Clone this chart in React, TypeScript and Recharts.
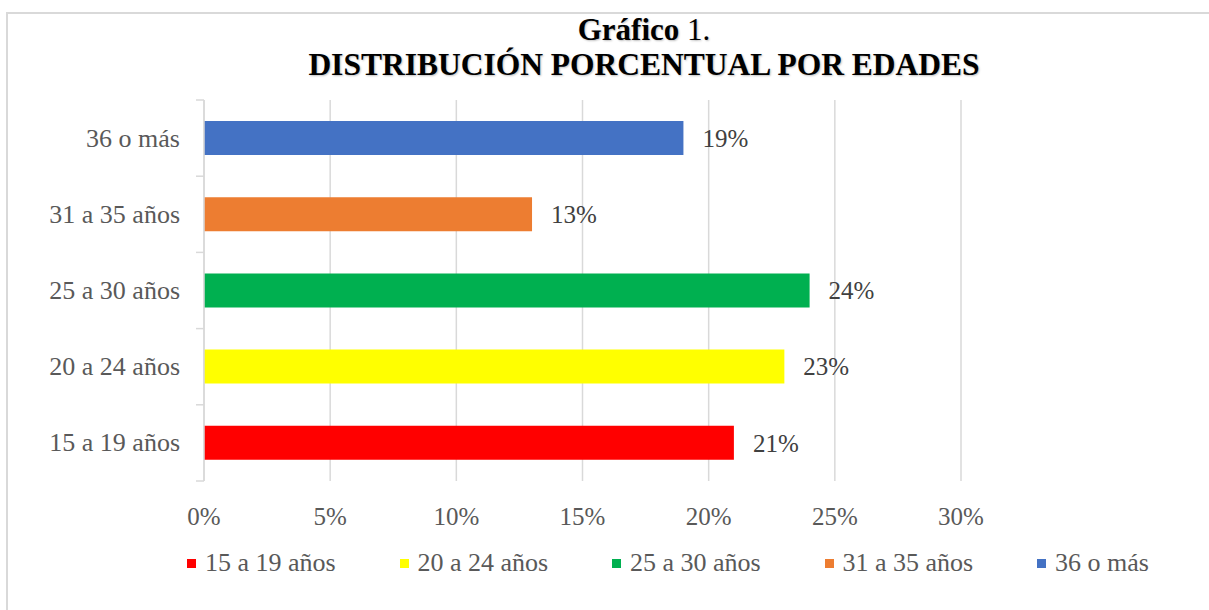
import { BarChart, Bar, XAxis, YAxis, CartesianGrid, Cell, LabelList, Legend } from 'recharts';

const categories = ['15 a 19 años', '20 a 24 años', '25 a 30 años', '31 a 35 años', '36 o más'];
const values = [21, 23, 24, 13, 19];
const colors = ['#FF0000', '#FFFF00', '#00B050', '#ED7D31', '#4472C4'];
const xTicks = [0, 5, 10, 15, 20, 25, 30];

const rows = categories.map((label, i) => ({ label, value: values[i] }));

const FONT = '"Liberation Serif", "Times New Roman", serif';
const AXIS_GRAY = '#d9d9d9';
const TEXT_GRAY = '#595959';
const PLOT_LEFT = 204;
const PLOT_TOP = 100;
const PLOT_BOTTOM = 481;
const BAND = (PLOT_BOTTOM - PLOT_TOP) / categories.length;

const YTick = ({ y, payload, index }) => (
	<g>
		<text
			x={PLOT_LEFT - 24}
			y={y}
			textAnchor="end"
			dominantBaseline="central"
			fill={TEXT_GRAY}
			fontSize={26}
			fontFamily={FONT}
		>
			{payload.value}
		</text>
		<line x1={PLOT_LEFT - 8} x2={PLOT_LEFT} y1={y - BAND / 2} y2={y - BAND / 2} stroke={AXIS_GRAY} strokeWidth={1.5} />
		{index === 0 && (
			<line x1={PLOT_LEFT - 8} x2={PLOT_LEFT} y1={y + BAND / 2} y2={y + BAND / 2} stroke={AXIS_GRAY} strokeWidth={1.5} />
		)}
	</g>
);

const XTick = ({ x, payload }) => (
	<text
		x={x}
		y={PLOT_BOTTOM + 35}
		textAnchor="middle"
		dominantBaseline="central"
		fill={TEXT_GRAY}
		fontSize={25}
		fontFamily={FONT}
	>
		{`${payload.value}%`}
	</text>
);

const LegendContent = () => (
	<div style={{ position: 'relative', width: 1209, height: 40 }}>
		{categories.map((c, i) => (
			<div
				key={c}
				style={{
					position: 'absolute',
					left: 187 + i * 212.5,
					top: 0,
					height: 40,
					display: 'flex',
					alignItems: 'center',
					fontFamily: FONT,
					fontSize: 26,
					color: TEXT_GRAY,
					whiteSpace: 'nowrap',
				}}
			>
				<span style={{ display: 'inline-block', width: 9, height: 9, background: colors[i], marginRight: 9 }} />
				{c}
			</div>
		))}
	</div>
);

export default function App() {
	return (
		<div style={{ position: 'absolute', left: 0, top: 0, width: 1209, height: 610, overflow: 'hidden', background: '#fff' }}>
			<div
				style={{
					position: 'absolute',
					left: 6,
					top: 12,
					width: 1240,
					height: 640,
					border: `2px solid ${AXIS_GRAY}`,
				}}
			/>
			<svg width={1209} height={100} style={{ position: 'absolute', left: 0, top: 0 }}>
				<text
					x={644}
					y={40}
					textAnchor="middle"
					fontFamily={FONT}
					fontSize={31}
					fill="#000"
					style={{ textShadow: '1px 1px 2px rgba(0,0,0,0.25)' }}
				>
					<tspan fontWeight="bold">Gráfico</tspan>
					<tspan> 1.</tspan>
				</text>
				<text
					x={644}
					y={75}
					textAnchor="middle"
					fontFamily={FONT}
					fontSize={31.5}
					fontWeight="bold"
					fill="#000"
					style={{ textShadow: '1px 1px 2px rgba(0,0,0,0.25)' }}
				>
					DISTRIBUCIÓN PORCENTUAL POR EDADES
				</text>
			</svg>
			<div style={{ position: 'absolute', left: 0, top: 0 }}>
				<BarChart
					width={1209}
					height={610}
					layout="vertical"
					data={rows}
					margin={{ top: PLOT_TOP, right: 248, bottom: 27, left: 0 }}
				>
					<CartesianGrid horizontal={false} stroke={AXIS_GRAY} strokeWidth={1.5} />
					<XAxis
						type="number"
						domain={[0, 30]}
						ticks={xTicks}
						axisLine={false}
						tickLine={false}
						height={62}
						tick={<XTick />}
						interval={0}
					/>
					<YAxis
						type="category"
						dataKey="label"
						reversed
						width={PLOT_LEFT}
						axisLine={{ stroke: AXIS_GRAY, strokeWidth: 1.5 }}
						tickLine={false}
						tick={<YTick />}
						interval={0}
					/>
					<Legend verticalAlign="bottom" content={<LegendContent />} wrapperStyle={{ left: 0, width: 1209, height: 40 }} />
					<Bar dataKey="value" barSize={34} isAnimationActive={false}>
						{rows.map((r, i) => (
							<Cell key={r.label} fill={colors[i]} />
						))}
						<LabelList
							dataKey="value"
							position="right"
							offset={19}
							formatter={(v) => `${v}%`}
							fill="#404040"
							fontSize={25}
							fontFamily={FONT}
						/>
					</Bar>
				</BarChart>
			</div>
		</div>
	);
}
